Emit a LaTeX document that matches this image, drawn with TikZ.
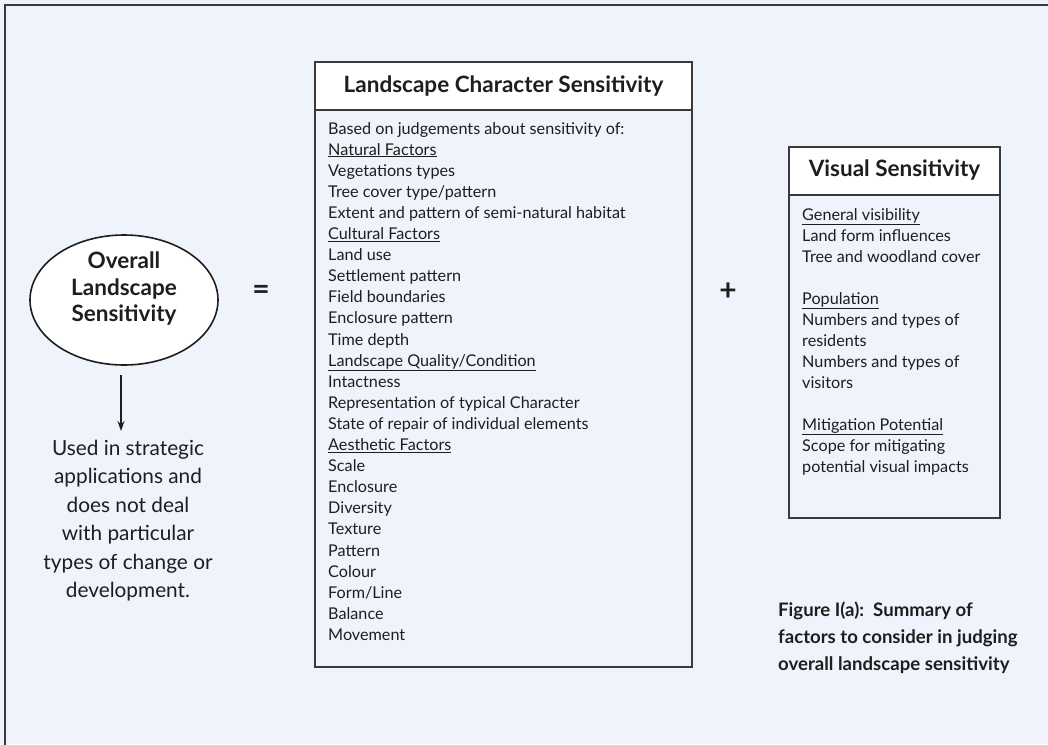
\documentclass[tikz,border=0pt]{standalone}
\usepackage{fontspec}
\setmainfont{Lato}
\usetikzlibrary{arrows.meta,shapes.geometric}
\definecolor{bg}{HTML}{EFF3FB}
\definecolor{ink}{HTML}{1E1E1E}
\definecolor{frame}{HTML}{3A3A3A}
\begin{document}
\begin{tikzpicture}[x=1pt,y=-1pt,
  body/.style={anchor=base west,inner sep=0pt,text=ink,font=\fontsize{16.2}{19}\selectfont},
  title/.style={inner sep=0pt,text=ink,font=\bfseries\fontsize{22.5}{26}\selectfont},
  boxline/.style={draw=frame,line width=1.8pt},
  big/.style={inner sep=0pt,text=ink,align=center}]
\useasboundingbox (0,0) rectangle (1048,744);
\fill[bg] (0,0) rectangle (1048,744);
\draw[frame,line width=2pt] (4.5,760) -- (4.5,4.5) -- (1060,4.5);
% Landscape Character Sensitivity box
\draw[boxline,fill=white] (315,62) rectangle (692,110);
\draw[boxline] (315,110) rectangle (692,667);
\node[title] (lcs) at (503.5,86) {Landscape Character Sensitivity};
\foreach \t [count=\i from 0] in {Based on judgements about sensitivity of:,
  \underline{Natural Factors},Vegetations types,Tree cover type/pattern,
  Extent and pattern of semi-natural habitat,\underline{Cultural Factors},
  Land use,Settlement pattern,Field boundaries,Enclosure pattern,Time depth,
  \underline{Landscape Quality/Condition},Intactness,
  Representation of typical Character,State of repair of individual elements,
  \underline{Aesthetic Factors},Scale,Enclosure,Diversity,Texture,Pattern,
  Colour,Form/Line,Balance,Movement}
  \node[body] (c\i) at (328,{134+21.1*\i}) {\t};
% Visual Sensitivity box
\draw[boxline,fill=white] (789,147) rectangle (1000,195);
\draw[boxline] (789,195) rectangle (1000,518);
\node[title] (vs) at (894.5,170) {Visual Sensitivity};
\foreach \yy/\t [count=\i] in {220/\underline{General visibility},241/Land form influences,
  262/Tree and woodland cover,304/\underline{Population},325/Numbers and types of,
  346/residents,367/Numbers and types of,388/visitors,430/\underline{Mitigation Potential},
  451/Scope for mitigating,472/potential visual impacts}
  \node[body] (v\i) at (802,\yy) {\t};
% Ellipse
\node[ellipse,draw=ink,line width=1.6pt,fill=white,minimum width=188pt,minimum height=130pt] (ols) at (124,300) {};
\node[big,font=\bfseries\fontsize{22.5}{26.5}\selectfont] (olst) at (124,289) {Overall\\Landscape\\Sensitivity};
\coordinate (a1) at (121,375);
\coordinate (a2) at (121,431);
\draw[ink,line width=1.5pt,-{Stealth[length=10pt,width=7pt]}] (a1) -- (a2);
\node[big,font=\fontsize{20.8}{28.4}\selectfont,anchor=north] (used) at (128,440) {Used in strategic\\applications and\\does not deal\\with particular\\types of change or\\development.};
% operators
\node[big,font=\bfseries\fontsize{30}{30}\selectfont] (eq) at (261,292) {=};
\node[big,font=\bfseries\fontsize{30}{30}\selectfont] (plus) at (728,292) {+};
% caption
\node[big,align=left,anchor=north west,font=\bfseries\fontsize{18.6}{27}\selectfont] (cap) at (778,602) {Figure I(a):\ \ Summary of\\factors to consider in judging\\overall landscape sensitivity};
\end{tikzpicture}
\end{document}
